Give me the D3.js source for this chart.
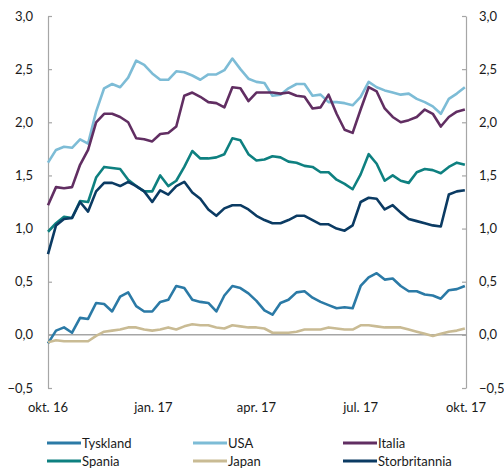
<!DOCTYPE html>
<html>
<head>
<meta charset="utf-8">
<script src="https://cdn.jsdelivr.net/npm/d3@7"></script>
<style>
  body { margin: 0; background: #fff; }
  svg { font-family: Lato, "Open Sans", sans-serif; }
</style>
</head>
<body>
<svg width="504" height="468"></svg>
<script>
// weekly observations from 1 Oct 2016
var start = new Date(2016, 9, 1);
var dates = d3.range(53).map(function(i) { return d3.timeDay.offset(start, i * 7); });

var tyskland = [-0.08,0.04,0.07,0.02,0.16,0.15,0.30,0.29,0.22,0.36,0.40,0.27,0.22,0.22,0.31,0.33,0.46,0.44,0.33,0.31,
  0.30,0.22,0.37,0.46,0.44,0.39,0.32,0.23,0.19,0.30,0.33,0.40,0.41,0.35,0.31,0.28,0.25,0.26,0.25,0.46,
  0.54,0.58,0.52,0.53,0.46,0.41,0.41,0.38,0.37,0.34,0.42,0.43,0.46];
var usa = [1.62,1.74,1.77,1.76,1.84,1.80,2.10,2.32,2.36,2.33,2.42,2.58,2.54,2.46,2.40,2.40,2.48,2.47,2.44,2.40,
  2.45,2.45,2.49,2.60,2.50,2.41,2.38,2.37,2.25,2.26,2.32,2.36,2.36,2.25,2.26,2.19,2.19,2.18,2.16,2.24,
  2.38,2.33,2.30,2.28,2.26,2.27,2.22,2.19,2.15,2.08,2.22,2.27,2.33];
var italia = [1.22,1.39,1.38,1.39,1.60,1.74,2.00,2.08,2.08,2.05,2.00,1.85,1.84,1.82,1.89,1.90,1.96,2.25,2.28,2.24,
  2.19,2.18,2.14,2.33,2.32,2.20,2.28,2.28,2.28,2.27,2.28,2.25,2.24,2.13,2.14,2.26,2.08,1.93,1.90,2.12,
  2.33,2.29,2.13,2.05,2.00,2.02,2.05,2.12,2.08,1.96,2.05,2.10,2.12];
var spania = [0.97,1.05,1.11,1.10,1.26,1.25,1.48,1.58,1.57,1.56,1.46,1.40,1.35,1.35,1.50,1.40,1.45,1.58,1.73,1.66,
  1.66,1.67,1.70,1.85,1.83,1.70,1.64,1.65,1.68,1.67,1.63,1.62,1.59,1.58,1.53,1.53,1.46,1.42,1.37,1.51,
  1.70,1.61,1.45,1.50,1.45,1.43,1.53,1.56,1.55,1.52,1.58,1.62,1.60];
var japan = [-0.07,-0.05,-0.06,-0.06,-0.06,-0.06,-0.01,0.03,0.04,0.05,0.07,0.07,0.05,0.04,0.05,0.07,0.05,0.08,0.10,0.09,
  0.09,0.07,0.06,0.09,0.08,0.07,0.07,0.06,0.02,0.02,0.02,0.03,0.05,0.05,0.05,0.07,0.06,0.05,0.05,0.09,
  0.09,0.08,0.07,0.07,0.07,0.05,0.03,0.01,-0.01,0.01,0.03,0.04,0.06];
var storbritannia = [0.76,1.03,1.09,1.10,1.25,1.16,1.35,1.43,1.43,1.40,1.44,1.40,1.35,1.25,1.36,1.32,1.40,1.44,1.34,1.28,
  1.18,1.12,1.19,1.22,1.22,1.18,1.12,1.08,1.05,1.05,1.08,1.12,1.12,1.08,1.04,1.04,1.00,0.98,1.03,1.25,
  1.29,1.28,1.18,1.22,1.15,1.09,1.07,1.05,1.03,1.02,1.32,1.35,1.36];

var seriesNames = ["Tyskland", "USA", "Italia", "Spania", "Japan", "Storbritannia"];
var seriesValues = [tyskland, usa, italia, spania, japan, storbritannia];
var colors = ["#2b7aa6", "#7dbcd6", "#612e62", "#0e8080", "#c9bb94", "#0b3b63"];

var yTicks = [-0.5, 0, 0.5, 1, 1.5, 2, 2.5, 3];
var xTicks = [new Date(2016, 9, 1), new Date(2017, 0, 1), new Date(2017, 3, 1), new Date(2017, 6, 1), new Date(2017, 9, 1)];
var months = ["jan.", "feb.", "mar.", "apr.", "mai", "jun.", "jul.", "aug.", "sep.", "okt.", "nov.", "des."];

var svg = d3.select("svg");
var plotLeft = 48, plotRight = 466, plotTop = 16, plotBottom = 388;

var x = d3.scaleTime().domain([xTicks[0], xTicks[4]]).range([plotLeft, plotRight]);
var y = d3.scaleLinear().domain([-0.5, 3]).range([plotBottom, plotTop]);
var fmt = function(d) { return d3.format(".1f")(d).replace(".", ","); };

// zero line
svg.append("line")
    .attr("x1", plotLeft).attr("x2", plotRight)
    .attr("y1", y(0)).attr("y2", y(0))
    .attr("stroke", "#a6a6a6").attr("stroke-width", 1.5);

var axisL = svg.append("g")
    .attr("transform", "translate(" + plotLeft + ",0)")
    .call(d3.axisRight(y).tickValues(yTicks).tickSize(4).tickSizeOuter(0).tickFormat(""));
var axisR = svg.append("g")
    .attr("transform", "translate(" + plotRight + ",0)")
    .call(d3.axisLeft(y).tickValues(yTicks).tickSize(4).tickSizeOuter(0).tickFormat(""));
[axisL, axisR].forEach(function(a) {
  a.select(".domain").attr("stroke", "#a6a6a6").attr("stroke-width", 1.2);
  a.selectAll(".tick line").attr("stroke", "#a6a6a6").attr("stroke-width", 1.2);
});

svg.append("g").selectAll("text")
    .data(yTicks).enter().append("text")
    .attr("x", 33).attr("y", function(d) { return y(d); })
    .attr("dy", "0.35em").attr("text-anchor", "end")
    .attr("font-size", 13).attr("fill", "#1a1a1a")
    .text(fmt);
svg.append("g").selectAll("text")
    .data(yTicks).enter().append("text")
    .attr("x", 479).attr("y", function(d) { return y(d); })
    .attr("dy", "0.35em").attr("text-anchor", "start")
    .attr("font-size", 13).attr("fill", "#1a1a1a")
    .text(fmt);

svg.append("g").selectAll("text")
    .data(xTicks).enter().append("text")
    .attr("x", function(d) { return x(d); }).attr("y", 412)
    .attr("text-anchor", "middle")
    .attr("font-size", 13).attr("fill", "#1a1a1a")
    .text(function(d) { return months[d.getMonth()] + " " + String(d.getFullYear()).slice(2); });

var line = d3.line()
    .x(function(d, i) { return x(dates[i]); })
    .y(function(d) { return y(d); });

svg.append("g").selectAll("path")
    .data(seriesValues).enter().append("path")
    .attr("d", line)
    .attr("fill", "none")
    .attr("stroke", function(d, i) { return colors[i]; })
    .attr("stroke-width", 2.6)
    .attr("stroke-linejoin", "round");

// legend
var legX = [47, 193, 343];
var leg = svg.append("g").selectAll("g")
    .data(seriesNames).enter().append("g")
    .attr("transform", function(d, i) {
      return "translate(" + legX[i % 3] + "," + (i < 3 ? 443 : 461) + ")";
    });
leg.append("line")
    .attr("x1", 0).attr("x2", 34)
    .attr("stroke", function(d, i) { return colors[i]; })
    .attr("stroke-width", 3);
leg.append("text")
    .attr("x", 35).attr("dy", "0.35em")
    .attr("font-size", 13).attr("fill", "#1a1a1a")
    .text(function(d) { return d; });
</script>
</body>
</html>
